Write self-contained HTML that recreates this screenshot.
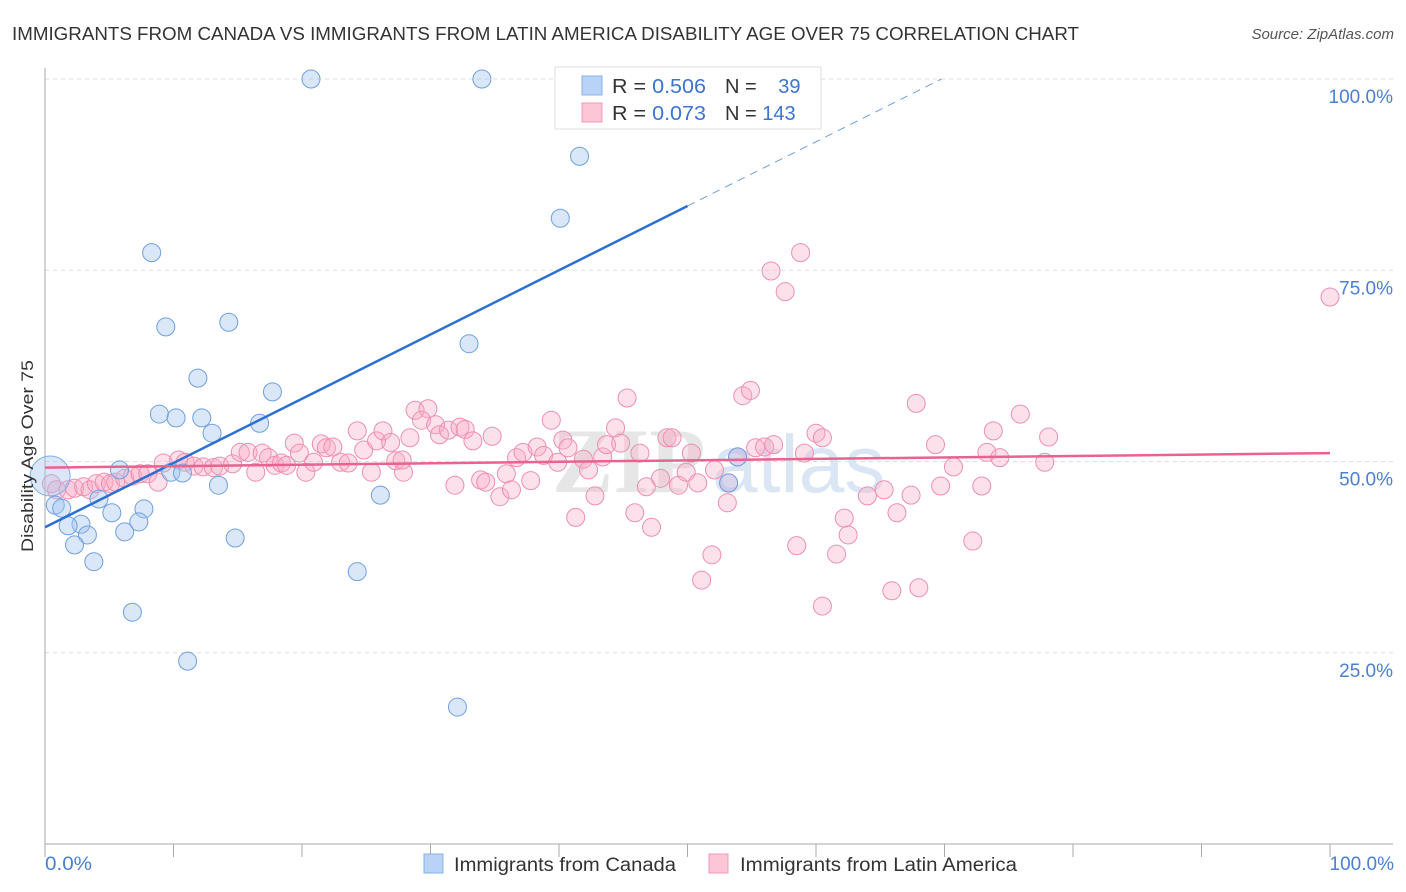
<!DOCTYPE html>
<html><head><meta charset="utf-8">
<style>
body{margin:0;background:#fff;font-family:"Liberation Sans",sans-serif;}
svg{display:block}
</style></head>
<body>
<svg id="c" width="1406" height="892" viewBox="0 0 1406 892" xmlns="http://www.w3.org/2000/svg">
<text x="12" y="40" font-size="18" fill="#333" textLength="1067" lengthAdjust="spacingAndGlyphs">IMMIGRANTS FROM CANADA VS IMMIGRANTS FROM LATIN AMERICA DISABILITY AGE OVER 75 CORRELATION CHART</text>
<text x="1394" y="39" font-size="15" fill="#555" font-style="italic" text-anchor="end">Source: ZipAtlas.com</text>
<g>
<text x="552" y="492" font-size="92" font-family="Liberation Serif,serif" font-weight="bold" fill="#e6e6e6">ZIP</text>
<text x="712" y="492" font-size="82" fill="#dbe6f4">atlas</text>
</g>
<g id="grid"></g>
<g id="axes"></g>
<g id="pts"></g>
<g id="lines"></g>
<text transform="translate(33,456) rotate(-90)" font-size="17" fill="#333" text-anchor="middle" textLength="192" lengthAdjust="spacingAndGlyphs">Disability Age Over 75</text>
<text x="45" y="870" font-size="19" fill="#4a7fd4" textLength="47" lengthAdjust="spacingAndGlyphs">0.0%</text>
<text x="1394" y="870" font-size="19" fill="#4a7fd4" text-anchor="end">100.0%</text>
<g>
<rect x="555" y="67" width="266" height="62" fill="#fff" stroke="#ddd"/>
<rect x="582" y="76" width="20" height="19" fill="#b8d3f5" stroke="#8ab2e8"/>
<rect x="582" y="103" width="20" height="19" fill="#fcc6d6" stroke="#f19ab6"/>
<text x="612" y="93" font-size="20" fill="#333" textLength="94" lengthAdjust="spacingAndGlyphs">R = <tspan fill="#3d74d0">0.506</tspan></text>
<text x="725" y="93" font-size="20" fill="#333">N = <tspan fill="#3d74d0" dx="16">39</tspan></text>
<text x="612" y="120" font-size="20" fill="#333" textLength="94" lengthAdjust="spacingAndGlyphs">R = <tspan fill="#3d74d0">0.073</tspan></text>
<text x="725" y="120" font-size="20" fill="#333">N = <tspan fill="#3d74d0">143</tspan></text>
</g>
<g>
<rect x="424" y="854" width="19" height="19" fill="#b8d3f5" stroke="#8ab2e8"/>
<text x="454" y="871" font-size="19" fill="#333" textLength="222" lengthAdjust="spacingAndGlyphs">Immigrants from Canada</text>
</g>
<g>
<rect x="709" y="854" width="19" height="19" fill="#fcc6d6" stroke="#f19ab6"/>
<text x="740" y="871" font-size="19" fill="#333" textLength="277" lengthAdjust="spacingAndGlyphs">Immigrants from Latin America</text>
</g>
</svg>
<script>
const yTicks=[25,50,75,100];
const yTickLabels=["25.0%","50.0%","75.0%","100.0%"];
const xTicks=[0,10,20,30,40,50,60,70,80,90,100];
const canadaX=[20.7,34.0,41.6,40.1,8.3,9.4,14.3,33.0,11.9,17.7,8.9,10.2,12.2,16.7,13.0,5.8,9.8,10.7,13.5,0.8,1.3,4.2,5.2,7.7,2.8,1.8,3.3,6.2,7.3,2.3,3.8,14.8,26.1,24.3,6.8,11.1,32.1,53.9,53.2];
const canadaY=[100,100,89.9,81.8,77.3,67.6,68.2,65.4,60.9,59.1,56.2,55.7,55.7,55.0,53.7,48.9,48.6,48.5,46.9,44.3,43.9,45.1,43.3,43.8,41.8,41.6,40.4,40.8,42.1,39.1,36.9,40.0,45.6,35.6,30.3,23.9,17.9,50.6,47.2];
const canadaBig=[0.4,48.1];
const latinX=[0.5,0.9,1.8,2.3,3.0,3.5,4.0,4.6,5.1,5.5,6.2,6.8,7.4,8.0,8.8,9.2,10.4,10.9,11.6,12.3,13.1,13.6,14.6,15.2,15.8,16.4,16.9,17.4,17.9,18.4,18.8,19.4,19.8,20.3,20.9,21.5,21.9,22.4,23.0,23.6,24.3,24.8,25.4,25.8,26.3,26.9,27.3,27.9,28.4,28.8,29.8,29.3,30.4,30.7,31.4,32.3,32.7,33.3,34.8,27.8,31.9,33.9,34.3,35.9,35.4,36.3,37.8,36.7,37.2,38.3,38.8,39.9,39.4,40.3,40.7,41.9,42.3,42.8,41.3,43.4,43.7,44.4,44.8,45.3,46.3,45.9,47.2,46.8,47.9,48.4,48.8,49.3,49.9,50.3,50.8,52.1,51.9,51.1,53.2,53.1,53.9,54.3,54.9,55.3,56.0,56.7,59.1,60.0,60.5,58.5,60.5,61.6,62.2,62.5,58.8,56.5,57.6,67.8,75.9,73.8,78.1,69.3,73.3,74.3,77.8,70.7,72.9,69.7,67.4,65.3,64.0,66.3,72.2,65.9,68.0,100];
const latinY=[47.1,46.3,46.3,46.5,46.7,46.3,47.1,47.3,47.1,47.3,47.8,48.1,48.4,48.4,47.3,49.8,50.2,49.9,49.4,49.3,49.2,49.4,49.7,51.2,51.2,48.6,51.1,50.5,49.5,49.8,49.5,52.4,51.1,48.6,49.9,52.3,51.8,51.9,49.9,49.8,54.0,51.5,48.6,52.7,54.0,52.5,50.1,48.6,53.1,56.7,56.9,55.4,54.8,53.5,54.1,54.5,54.2,52.7,53.3,50.2,46.9,47.6,47.3,48.4,45.4,46.3,47.5,50.5,51.2,51.9,50.8,49.9,55.4,52.8,51.8,50.3,48.9,45.5,42.7,50.6,52.2,54.4,52.4,58.3,51.1,43.3,41.4,46.7,47.8,53.1,53.1,46.9,48.6,51.1,47.2,48.9,37.8,34.5,47.2,44.6,50.6,58.6,59.3,51.8,51.9,52.2,51.1,53.7,53.1,39.0,31.1,37.9,42.6,40.4,77.3,74.9,72.2,57.6,56.2,54.0,53.2,52.2,51.2,50.5,49.9,49.3,46.8,46.8,45.6,46.3,45.5,43.3,39.6,33.1,33.5,71.5];
const canadaTrend=[41.4,0.84];
const canadaSolidEnd=50;
const latinTrend=[49.2,0.019];

const NS="http://www.w3.org/2000/svg";
const X0=45,X1=1330,Y0=844,Y100=79;
function sx(v){return X0+(X1-X0)*v/100;}
function sy(v){return Y0-(Y0-Y100)*v/100;}
function mk(tag,attrs,parent){const e=document.createElementNS(NS,tag);for(const k in attrs)e.setAttribute(k,attrs[k]);parent.appendChild(e);return e;}
const grid=document.getElementById('grid'),axes=document.getElementById('axes'),pts=document.getElementById('pts'),lines=document.getElementById('lines');
yTicks.forEach((t,i)=>{
  const l=mk('line',{x1:X0,x2:1393,y1:sy(t),y2:sy(t),stroke:'#ddd','stroke-dasharray':'4,4'},grid);
  
  
  const tx=mk('text',{x:1393,y:sy(t)+24,'font-size':19,fill:'#4a7fd4','text-anchor':'end'},grid);
  tx.textContent=yTickLabels[i];
  
  
});
const ya=mk('line',{x1:X0,x2:X0,y1:68,y2:Y0,stroke:'#aaa'},axes);


const xa=mk('line',{x1:X0,x2:1393,y1:Y0,y2:Y0,stroke:'#aaa'},axes);


xTicks.forEach(t=>{
  const l=mk('line',{x1:sx(t),x2:sx(t),y1:Y0,y2:Y0+13,stroke:'#aaa'},axes);
  
  
});
latinX.forEach((x,i)=>{
  const c=mk('circle',{cx:sx(x),cy:sy(latinY[i]),r:9,fill:'rgba(248,170,195,0.35)',stroke:'#ee8fb0','stroke-width':1},pts);
  
  
});
const big=mk('circle',{cx:sx(canadaBig[0]),cy:sy(canadaBig[1]),r:20,fill:'rgba(160,195,240,0.4)',stroke:'#80aee6'},pts);


canadaX.forEach((x,i)=>{
  const c=mk('circle',{cx:sx(x),cy:sy(canadaY[i]),r:9,fill:'rgba(160,195,240,0.4)',stroke:'#6fa0e0','stroke-width':1},pts);
  
  
});
const cf=v=>canadaTrend[0]+canadaTrend[1]*v;
const xEnd=(100-canadaTrend[0])/canadaTrend[1];
const bl=mk('line',{x1:sx(0),y1:sy(cf(0)),x2:sx(canadaSolidEnd),y2:sy(cf(canadaSolidEnd)),stroke:'#2b6fd6','stroke-width':2.5},lines);


const bd=mk('line',{x1:sx(canadaSolidEnd),y1:sy(cf(canadaSolidEnd)),x2:sx(xEnd),y2:sy(100),stroke:'#6f9fe0','stroke-width':1,'stroke-dasharray':'8,6'},lines);


const lf=v=>latinTrend[0]+latinTrend[1]*v;
const pl=mk('line',{x1:sx(0),y1:sy(lf(0)),x2:sx(100),y2:sy(lf(100)),stroke:'#e8638f','stroke-width':2.5},lines);


</script>
</body></html>
